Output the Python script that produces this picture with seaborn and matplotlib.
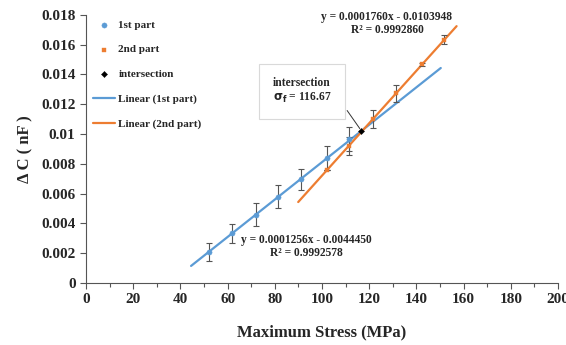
import numpy as np
import pandas as pd
import matplotlib
matplotlib.use("Agg")
import matplotlib.pyplot as plt
import seaborn as sns

# values
stress_1 = [52, 62, 72, 81.5, 91, 102, 111.5]
dc_1 = [0.00205, 0.00333, 0.00458, 0.00578, 0.00695, 0.00838, 0.00965]
err_1 = [0.0006, 0.00064, 0.00078, 0.00078, 0.00072, 0.0008, 0.0008]

stress_2 = [102, 111.5, 121.5, 131.5, 142.5, 151.5]
dc_2 = [0.00758, 0.00918, 0.01098, 0.01272, 0.01468, 0.01632]
err_2 = [0.0, 0.0006, 0.0006, 0.0006, 0.0001, 0.0003]

inter_x = [116.67]
inter_y = [0.01021]

fit1_x = [44.5, 150.3]
fit1_y = [0.00114, 0.01443]
fit2_x = [89.9, 157.0]
fit2_y = [0.00543, 0.01724]

blue = "#5B9BD5"
orange = "#ED7D31"

sns.set_style("white")
plt.rcParams["font.family"] = ["Liberation Serif", "DejaVu Serif"]
plt.rcParams["font.weight"] = "bold"

fig = plt.figure(figsize=(5.66, 3.45), dpi=100)
ax = fig.add_axes([0.152, 0.180, 0.834, 0.777])

# fitted lines
sns.lineplot(x=fit1_x, y=fit1_y, color=blue, lw=1.6, ax=ax, label="Linear (1st part)")
sns.lineplot(x=fit2_x, y=fit2_y, color=orange, lw=1.6, ax=ax, label="Linear (2nd part)")

# error bars
ax.errorbar(stress_1, dc_1, yerr=err_1, fmt="none", ecolor="#555555", elinewidth=0.8, capsize=2.5, capthick=0.8)
ax.errorbar(stress_2, dc_2, yerr=err_2, fmt="none", ecolor="#555555", elinewidth=0.8, capsize=2.5, capthick=0.8)

# points
sns.scatterplot(x=stress_1, y=dc_1, color=blue, marker="o", s=14, edgecolor=blue, ax=ax, label="1st part", zorder=4)
sns.scatterplot(x=stress_2, y=dc_2, color=orange, marker="s", s=12, edgecolor=orange, ax=ax, label="2nd part", zorder=4)
sns.scatterplot(x=inter_x, y=inter_y, color="black", marker="D", s=10, edgecolor="black", ax=ax, label="intersection", zorder=5)

# annotations
ax.text(127.5, 0.01825, "y = 0.0001760x - 0.0103948\nR² = 0.9992860", ha="center", va="top",
        fontsize=8.3, fontweight="bold", linespacing=1.15, clip_on=False)
ax.text(93.5, 0.00245, "y = 0.0001256x - 0.0044450\nR² = 0.9992578", ha="center", va="center",
        fontsize=8.3, fontweight="bold", linespacing=1.15)
ax.annotate("intersection\n$\\mathbf{\\sigma_f}$ = 116.67", xy=(inter_x[0], inter_y[0]), xytext=(91.5, 0.0129),
            ha="center", va="center", fontsize=8.3, fontweight="bold",
            bbox=dict(boxstyle="square,pad=1.2", fc="white", ec="#d9d9d9", lw=0.8),
            arrowprops=dict(arrowstyle="-", color="#333333", lw=0.7, relpos=(1.0, 0.6)))

ax.set_xlim(0, 200)
ax.set_ylim(0, 0.018)
ax.set_xticks(np.arange(0, 201, 20))
ax.set_xticks(np.arange(10, 200, 20), minor=True)
ax.set_yticks(np.arange(0, 0.0181, 0.002))
ax.set_yticklabels(["0", "0.002", "0.004", "0.006", "0.008", "0.01", "0.012", "0.014", "0.016", "0.018"])
ax.tick_params(axis="both", which="major", labelsize=11, direction="out", length=4, width=0.8, color="#555555")
ax.tick_params(axis="x", which="minor", direction="out", length=3, width=0.8, color="#555555")
ax.tick_params(axis="both", which="both", bottom=True, left=True)
for lab in ax.get_xticklabels() + ax.get_yticklabels():
    lab.set_fontweight("bold")

sns.despine(ax=ax)
for side in ["left", "bottom"]:
    ax.spines[side].set_color("#555555")
    ax.spines[side].set_linewidth(0.8)

ax.set_xlabel("Maximum Stress (MPa)", fontsize=12, fontweight="bold", labelpad=13)
ax.set_ylabel("Δ C ( nF )", fontsize=12, fontweight="bold", labelpad=6)

handles, labels = ax.get_legend_handles_labels()
order = [labels.index(n) for n in ["1st part", "2nd part", "intersection", "Linear (1st part)", "Linear (2nd part)"]]
ax.legend([handles[i] for i in order], [labels[i] for i in order], loc="upper left", bbox_to_anchor=(0.0, 1.005),
          frameon=False, prop={"weight": "bold", "size": 8}, labelspacing=1.33, handlelength=2.0,
          handletextpad=0.3, borderaxespad=0.2)

fig.savefig("out.png", dpi=100)
